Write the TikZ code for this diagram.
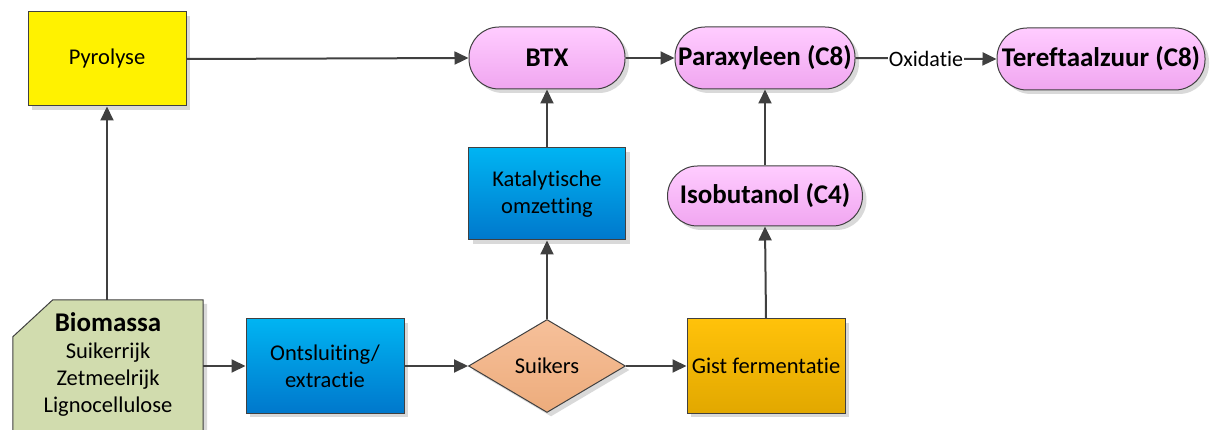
\documentclass[tikz,border=0pt]{standalone}
\usepackage{fontspec}
\setmainfont[Ligatures=NoCommon]{Carlito}
\usetikzlibrary{shapes.geometric,shadows,arrows.meta}
\definecolor{lnc}{HTML}{404040}
\tikzset{
  base/.style={draw=lnc, line width=1pt, inner sep=2pt, align=center, text=black,
    font=\fontsize{22.5}{27}\selectfont,
    drop shadow={shadow xshift=4pt, shadow yshift=-4pt, fill=black, opacity=0.15}},
  boxsq/.style={base, rectangle, minimum width=158pt, minimum height=94pt},
  bluebox/.style={boxsq, top color=blue1, bottom color=blue2},
  pill/.style={base, rectangle, rounded corners=30pt, minimum height=62pt,
    top color=pink1, bottom color=pink2, font=\bfseries\fontsize{27}{30}\selectfont},
  arr/.style={draw=lnc, line width=2pt, -{Triangle[length=14pt,width=13pt]}},
}
\definecolor{blue1}{HTML}{00B4F2}
\definecolor{blue2}{HTML}{0078CC}
\definecolor{pink1}{HTML}{FFCCFF}
\definecolor{pink2}{HTML}{F0A6F0}
\definecolor{gold1}{HTML}{FFC20A}
\definecolor{gold2}{HTML}{E2A800}
\definecolor{sal1}{HTML}{F6C09A}
\definecolor{sal2}{HTML}{EDAC7C}
\definecolor{biogreen}{HTML}{D1DCAE}
\begin{document}
\begin{tikzpicture}[x=1pt,y=-1pt]
\useasboundingbox (0,0) rectangle (1210,430);
% Pyrolyse
\node[boxsq, fill=yellow] (pyr) at (107,59) {Pyrolyse};
% pills
\node[pill, minimum width=156pt] (btx) at (547,58) {BTX};
\node[pill, minimum width=180pt] (para) at (765,58) {Paraxyleen (C8)};
\node[pill, minimum width=208pt] (tere) at (1101,59) {Tereftaalzuur (C8)};
\node[pill, minimum width=195pt, minimum height=60pt] (iso) at (765,196) {Isobutanol (C4)};
% Katalytische
\node[bluebox, minimum width=157pt, minimum height=92pt] (kat) at (547,194) {Katalytische\\omzetting};
% Biomassa
\node[minimum width=190pt, minimum height=132pt, inner sep=0pt] (bio) at (108,366) {};
\fill[black, opacity=0.15] ([xshift=4pt,yshift=-4pt]bio.north west) ++(0,37) -- ++(40,-37) -- ([xshift=4pt,yshift=-4pt]bio.north east) -- ([xshift=4pt,yshift=-4pt]bio.south east) -- ([xshift=4pt,yshift=-4pt]bio.south west) -- cycle;
\draw[lnc, line width=1pt, fill=biogreen] ([yshift=-37pt]bio.north west) -- ([xshift=40pt]bio.north west) -- (bio.north east) -- (bio.south east) -- (bio.south west) -- cycle;
\node[align=center, font=\fontsize{22.5}{27}\selectfont, inner sep=0pt] (biotext) at (108,364)
  {{\bfseries\fontsize{27}{29}\selectfont Biomassa}\\Suikerrijk\\Zetmeelrijk\\Lignocellulose};
% bottom row
\node[bluebox] (ont) at (325,366) {Ontsluiting/\\extractie};
\node[base, diamond, inner sep=0pt, minimum width=157pt, minimum height=93pt, top color=sal1, bottom color=sal2] (sui) at (547,366) {Suikers};
\node[boxsq, top color=gold1, bottom color=gold2] (gist) at (766,366) {Gist fermentatie};
% connectors
\draw[arr] (bio.north -| pyr.south) -- (pyr.south);
\draw[arr] (pyr.east) -- (btx.west);
\draw[arr] (btx.east) -- (para.west);
\draw[arr] (para.east) -- node[fill=white, inner sep=1pt, text=black, font=\fontsize{22}{24}\selectfont] (ox) {Oxidatie} (tere.west);
\draw[arr] (ont.west -| bio.east) -- (ont.west);
\draw[arr] (ont.east) -- (sui.west);
\draw[arr] (sui.east) -- (gist.west);
\draw[arr] (sui.north) -- (kat.south);
\draw[arr] (kat.north) -- (btx.south);
\draw[arr] (gist.north) -- (iso.south);
\draw[arr] (iso.north) -- (para.south);
\end{tikzpicture}
\end{document}
